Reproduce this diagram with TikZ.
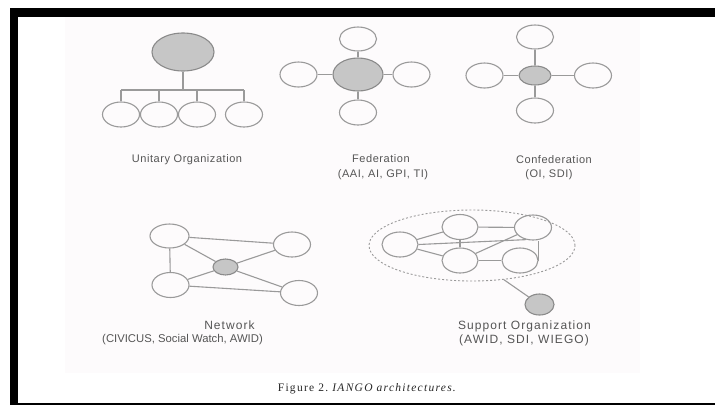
\documentclass[tikz,border=0pt]{standalone}
\usepackage{fontspec}
\setmainfont{Liberation Serif}
\newfontfamily\toplabelfont{Liberation Sans}[LetterSpace=5]
\newfontfamily\botlabelfont{Liberation Sans}[LetterSpace=9]
\newfontfamily\plainlabelfont{Liberation Sans}
\newfontfamily\captionfont{Liberation Serif}[LetterSpace=11]
\usetikzlibrary{shapes.geometric,positioning}

\definecolor{linegray}{HTML}{9A9A9A}
\definecolor{hubgray}{HTML}{C6C6C6}
\definecolor{hubline}{HTML}{8A8A8A}
\definecolor{textgray}{HTML}{555555}
\definecolor{paper}{HTML}{FDFBFC}

\tikzset{
  org/.style={ellipse, draw=linegray, line width=1.1pt, minimum width=37pt, minimum height=25pt, inner sep=0pt},
  hub/.style={org, draw=hubline, fill=hubgray},
  link/.style={draw=linegray, line width=1.1pt},
  toplabel/.style={text=textgray, inner sep=0pt, font=\toplabelfont\fontsize{11}{13}\selectfont},
  botlabel/.style={text=textgray, inner sep=0pt, font=\botlabelfont\fontsize{12}{14}\selectfont}
}

\begin{document}
\begin{tikzpicture}[x=1pt, y=-1pt]
    \useasboundingbox (0,0) rectangle (715,405);
    % frame
    \fill[paper] (65,17) rectangle (640,373);
    \fill[black] (10,8) rectangle (715,17);
    \fill[black] (10,8) rectangle (18,405);
    \fill[black] (10,402.5) rectangle (715,404.5);

    % unitary organization
    \node[hub, minimum width=62pt, minimum height=38pt] (u0) at (183,52) {};
    \node[org] (u1) at (121,114.5) {};
    \node[org] (u2) at (159,114.5) {};
    \node[org] (u3) at (197,114.5) {};
    \node[org] (u4) at (244,114.5) {};
    \coordinate (ubar) at (183,90);
    \draw[link] (u0) -- (ubar);
    \draw[link] (u1 |- ubar) -- (u4 |- ubar);
    \foreach \i in {1,...,4} \draw[link] (u\i |- ubar) -- (u\i);
    \node[toplabel] (ulabel) at (187,160) {Unitary Organization};

    % federation
    \node[hub, minimum width=50pt, minimum height=33pt] (f0) at (358,74.5) {};
    \node[org, minimum height=24pt] (f1) at (358,39) {};
    \node[org] (f2) at (411.5,74.5) {};
    \node[org] (f3) at (358,112.5) {};
    \node[org] (f4) at (298.5,74.5) {};
    \foreach \i in {1,...,4} \draw[link] (f0) -- (f\i);
    \node[toplabel] (flabel) at (381,159) {Federation};
    \node[toplabel] (fmembers) at (383,175) {(AAI, AI, GPI, TI)};

    % confederation
    \node[hub, minimum width=32pt, minimum height=19pt] (c0) at (535,75.5) {};
    \node[org, minimum height=24pt] (c1) at (535,37) {};
    \node[org] (c2) at (593,75.5) {};
    \node[org] (c3) at (535,110.5) {};
    \node[org] (c4) at (484.5,75.5) {};
    \foreach \i in {1,...,4} \draw[link] (c0) -- (c\i);
    \node[toplabel] (clabel) at (554,160) {Confederation};
    \node[toplabel] (cmembers) at (549,175) {(OI, SDI)};

    % network
    \node[hub, minimum width=25pt, minimum height=16pt] (n0) at (225.5,267) {};
    \node[org, minimum width=39pt, minimum height=24pt] (n1) at (169.5,236) {};
    \node[org] (n2) at (292,244.5) {};
    \node[org] (n3) at (170.5,285) {};
    \node[org] (n4) at (299,293) {};
    \draw[link] (n1) -- (n2);
    \draw[link] (n1) -- (n3);
    \draw[link] (n3) -- (n4);
    \foreach \i in {1,...,4} \draw[link] (n0) -- (n\i);
    \node[botlabel] (nlabel) at (229.5,325.5) {Network};
    \node[botlabel, font=\plainlabelfont\fontsize{11.3}{13}\selectfont] (nmembers) at (182.5,339.5) {(CIVICUS, Social Watch, AWID)};

    % support organization
    \node[ellipse, draw=linegray, line width=0.9pt, dash pattern=on 2pt off 2pt,
          minimum width=206pt, minimum height=71pt] (cloud) at (472,245.5) {};
    \node[org, minimum width=36pt] (s1) at (400,244.5) {};
    \node[org, minimum width=36pt] (s2) at (460,227) {};
    \node[org] (s3) at (533,227.5) {};
    \node[org, minimum width=36pt] (s4) at (460,260.5) {};
    \node[org, minimum width=36pt] (s5) at (520,260.5) {};
    \node[hub, minimum width=29pt, minimum height=21pt] (s0) at (539.5,304.5) {};
    \draw[link] (s1) -- (s2);
    \draw[link] (s1) -- (s4);
    \draw[link] (s1.east) -- (s3.240);
    \draw[link] (s2) -- (s3);
    \draw[link] (s2) -- (s4);
    \draw[link] (s4) -- (s3);
    \draw[link] (s4) -- (s5);
    \draw[link] (s5.east) -- (s5.east |- s3.south);
    \draw[link] (cloud.-47) -- (s0);
    \node[botlabel] (slabel) at (524.5,326) {Support Organization};
    \node[botlabel] (smembers) at (524,340) {(AWID, SDI, WIEGO)};

    % caption
    \node[text=black!85, inner sep=0pt, font=\captionfont\fontsize{11.5}{13}\selectfont] (caption) at (367.5,389)
        {Figure 2.\ \textit{IANGO architectures.}};
\end{tikzpicture}
\end{document}
